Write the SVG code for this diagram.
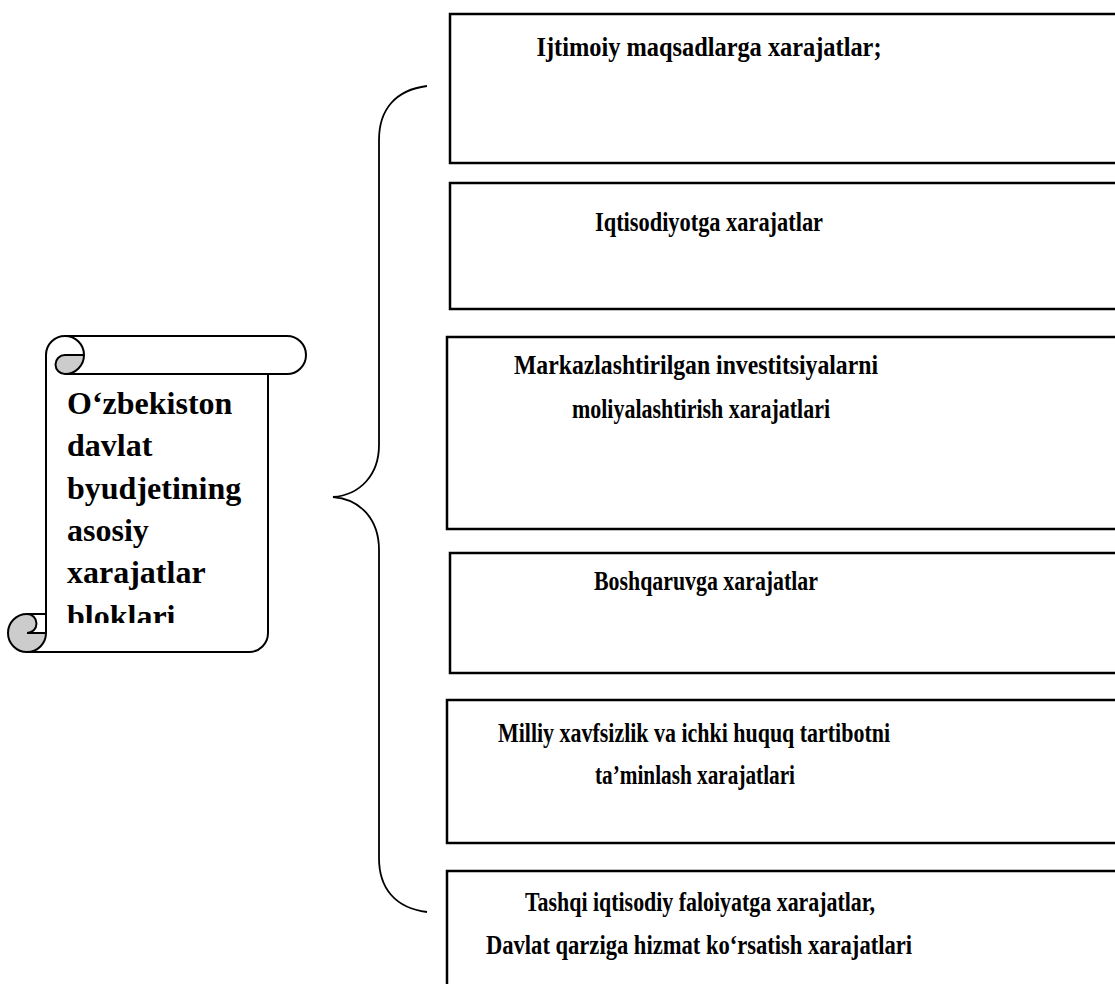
<svg xmlns="http://www.w3.org/2000/svg" width="1115" height="984" viewBox="0 0 1115 984">
<style>
.box{fill:#fff;stroke:#000;stroke-width:2.5}
.t{font-family:"Liberation Serif","Times New Roman",serif;font-weight:bold;font-size:32px;fill:#000}
.b{font-family:"Liberation Serif","Times New Roman",serif;font-weight:bold;font-size:28px;fill:#000;text-anchor:middle}
.ln{fill:none;stroke:#000;stroke-width:1.8}
.sc{fill:none;stroke:#000;stroke-width:2}
.sh{fill:#cccccc;stroke:none}
</style>
<defs>
<clipPath id="scrollclip"><rect x="46" y="374" width="222" height="249"/></clipPath>
</defs>
<rect width="1115" height="984" fill="#fff"/>
<g id="scroll">
<path d="M46 614 L46 355 A19 19 0 0 1 65 336 L287 336 A19 19 0 0 1 287 374 L268 374 L268 633 A19 19 0 0 1 249 652 L27 652 A19 19 0 0 1 27 614 Z" fill="#fff"/>
<path class="sh" d="M84 355 A19 19 0 0 1 65 374 A9.5 9.5 0 0 1 65 355 Z"/>
<path class="sh" d="M46 633 A19 19 0 1 1 27 614 A9.5 9.5 0 0 1 27 633 Z"/>
<path class="sc" d="M46 614 L46 355 A19 19 0 0 1 65 336 L287 336 A19 19 0 0 1 287 374 L268 374 L268 633 A19 19 0 0 1 249 652 L27 652 A19 19 0 0 1 27 614 Z"/>
<path class="sc" d="M65 336 A19 19 0 0 1 65 374 A9.5 9.5 0 0 1 65 355 L84 355"/>
<path class="sc" d="M268 374 L65 374"/>
<path class="sc" d="M27 614 A9.5 9.5 0 0 1 27 633 L46 633"/>
<path class="sc" d="M27 652 A19 19 0 0 0 46 633 L46 614"/>
<g clip-path="url(#scrollclip)">
<text class="t" x="67" y="414">O‘zbekiston</text>
<text class="t" x="67" y="456">davlat</text>
<text class="t" x="67" y="499">byudjetining</text>
<text class="t" x="67" y="541">asosiy</text>
<text class="t" x="67" y="583">xarajatlar</text>
<text class="t" x="67" y="627">bloklari</text>
</g>
</g>
<g id="connectors">
<path class="ln" d="M427 86 C395 90 379 110 379 140 L379 445 C379 475 360 495 333 497 C360 499 379 519 379 550 L379 858 C379 888 395 908 427 912"/>
</g>
<g id="box1">
<rect class="box" x="450" y="14" width="680" height="149"/>
<text class="b" x="709" y="56" textLength="345" lengthAdjust="spacingAndGlyphs">Ijtimoiy maqsadlarga xarajatlar;</text>
</g>
<g id="box2">
<rect class="box" x="450" y="183" width="680" height="126"/>
<text class="b" x="709" y="231" textLength="228" lengthAdjust="spacingAndGlyphs">Iqtisodiyotga xarajatlar</text>
</g>
<g id="box3">
<rect class="box" x="447" y="337" width="680" height="192"/>
<text class="b" x="696" y="374" textLength="364" lengthAdjust="spacingAndGlyphs">Markazlashtirilgan investitsiyalarni</text>
<text class="b" x="701" y="418" textLength="258" lengthAdjust="spacingAndGlyphs">moliyalashtirish xarajatlari</text>
</g>
<g id="box4">
<rect class="box" x="450" y="553" width="680" height="120"/>
<text class="b" x="706" y="590" textLength="224" lengthAdjust="spacingAndGlyphs">Boshqaruvga xarajatlar</text>
</g>
<g id="box5">
<rect class="box" x="447" y="700" width="680" height="143"/>
<text class="b" x="694" y="742" textLength="392" lengthAdjust="spacingAndGlyphs">Milliy xavfsizlik va ichki huquq tartibotni</text>
<text class="b" x="695" y="784" textLength="200" lengthAdjust="spacingAndGlyphs">ta’minlash xarajatlari</text>
</g>
<g id="box6">
<rect class="box" x="447" y="871" width="680" height="140"/>
<text class="b" x="700" y="911" textLength="350" lengthAdjust="spacingAndGlyphs">Tashqi iqtisodiy faloiyatga xarajatlar,</text>
<text class="b" x="699" y="954" textLength="426" lengthAdjust="spacingAndGlyphs">Davlat qarziga hizmat ko‘rsatish xarajatlari</text>
</g>
</svg>
